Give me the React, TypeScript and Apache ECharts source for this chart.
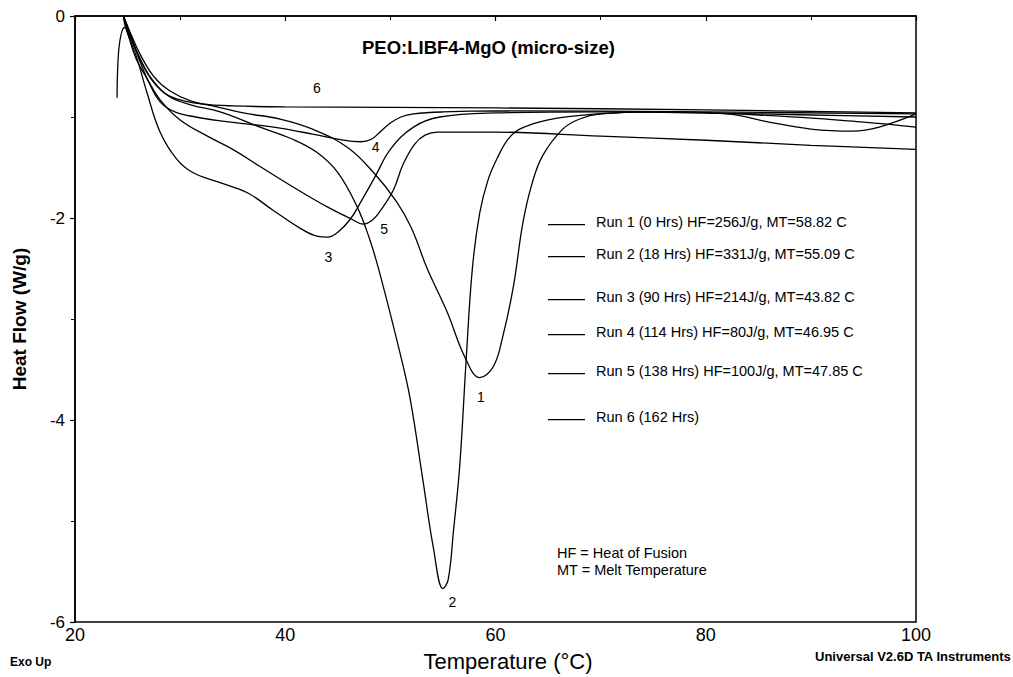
import React, { useEffect, useRef } from 'react';
import * as echarts from 'echarts';

// Temperature (°C), Heat Flow (W/g)
const run1: number[][] = [
  [24.6, 0], [25.2, -0.15], [26.2, -0.38], [27.5, -0.6], [29, -0.74], [31, -0.84], [33.5, -0.9],
  [36, -0.96], [39.5, -1.02], [42.6, -1.12], [45.9, -1.3], [48.4, -1.55], [50.6, -1.84], [52, -2.1],
  [53.5, -2.5], [55.4, -2.93], [57.1, -3.38], [58.5, -3.58], [59.8, -3.47], [60.7, -3.17], [61.7, -2.68],
  [62.6, -2.05], [63.5, -1.65], [64.5, -1.38], [66.4, -1.12], [68, -1.02], [70, -0.97], [75, -0.95],
  [82, -0.97], [86, -1.05], [90, -1.12], [94, -1.14], [96.5, -1.1], [100, -0.97],
];
const run2: number[][] = [
  [24.6, 0], [25.3, -0.2], [26.3, -0.45], [27.5, -0.66], [29, -0.8], [31, -0.88], [33.8, -0.95],
  [37.6, -1.1], [40.7, -1.22], [43, -1.35], [45, -1.55], [46.8, -1.88], [48, -2.2], [49, -2.55],
  [50.9, -3.33], [51.9, -3.8], [53.1, -4.6], [54.1, -5.27], [55, -5.67], [55.5, -5.58], [56, -5.1],
  [56.6, -4.45], [57.2, -3.42], [57.8, -2.5], [58.5, -1.95], [59.3, -1.62], [60.2, -1.4], [61.2, -1.22],
  [62.3, -1.12], [64.9, -1.03], [69.7, -0.97], [75, -0.95], [85, -0.98], [95, -1.05], [100, -1.1],
];
const run3: number[][] = [
  [24.6, 0], [24.8, -0.11], [25.3, -0.25], [25.9, -0.42], [26.85, -0.76], [28.1, -1.15], [29.7, -1.42],
  [31.2, -1.55], [33.8, -1.65], [36.4, -1.75], [38.8, -1.92], [41.4, -2.1], [43, -2.18], [44, -2.19],
  [45, -2.14], [46.2, -2.01], [47.3, -1.82], [48.6, -1.58], [50, -1.32], [52.2, -1.1], [54.7, -1.0],
  [60, -0.96], [70, -0.95], [80, -0.96], [90, -0.98], [100, -1.0],
];
const run4: number[][] = [
  [24.6, 0], [25.2, -0.16], [26, -0.4], [27, -0.65], [28.1, -0.85], [29.5, -0.95], [31.5, -1.0],
  [34, -1.04], [36.5, -1.07], [39.5, -1.11], [42.6, -1.17], [45.5, -1.23], [47.2, -1.245], [48.2, -1.22],
  [49, -1.15], [50, -1.06], [51, -1.0], [52.2, -0.97], [55, -0.95], [60, -0.94], [80, -0.95], [100, -0.97],
];
const run5: number[][] = [
  [24.6, 0], [25.1, -0.2], [25.8, -0.42], [26.85, -0.62], [28.1, -0.83], [30, -1.03], [32.6, -1.19],
  [35, -1.32], [37.6, -1.49], [40.7, -1.69], [44, -1.89], [46.3, -2.01], [47.4, -2.06], [48.3, -2.02],
  [49.1, -1.92], [50.3, -1.72], [51.2, -1.47], [52.3, -1.27], [53.3, -1.18], [54.5, -1.15], [60, -1.15],
  [70, -1.19], [80, -1.23], [90, -1.28], [100, -1.32],
];
const run6: number[][] = [
  [24.0, -0.81], [24.05, -0.55], [24.2, -0.3], [24.5, -0.14], [24.8, -0.11], [25.2, -0.2], [26, -0.38],
  [27, -0.58], [28.5, -0.76], [30, -0.83], [32, -0.87], [35, -0.89], [40, -0.9], [60, -0.91], [80, -0.93],
  [100, -0.96],
];

const runNames = [
  'Run 1 (0 Hrs) HF=256J/g, MT=58.82 C',
  'Run 2 (18 Hrs) HF=331J/g, MT=55.09 C',
  'Run 3 (90 Hrs) HF=214J/g, MT=43.82 C',
  'Run 4 (114 Hrs) HF=80J/g, MT=46.95 C',
  'Run 5 (138 Hrs) HF=100J/g, MT=47.85 C',
  'Run 6 (162 Hrs)',
];
const curveLabels = ['1', '2', '3', '4', '5', '6'];
const curveLabelCoords: number[][] = [
  [58.6, -3.77], [55.9, -5.8], [44.1, -2.39], [48.6, -1.3], [49.4, -2.11], [43.0, -0.71],
];
const legendTops = [209, 241, 284, 319, 358, 404];

export default function App() {
  const ref = useRef<HTMLDivElement>(null);
  useEffect(() => {
    const chart = echarts.init(ref.current!, null, { renderer: 'svg' });
    const font = "'Liberation Sans', Arial, Helvetica, sans-serif";
    const runs = [run1, run2, run3, run4, run5, run6];
    const legendIcon =
      'path://M0,0 L0.01,0 L0.01,0.01 Z M0,13.99 L0.01,14 L0,14 Z M0,9.5 L38,9.5 L38,10.9 L0,10.9 Z';
    chart.setOption({
      animation: false,
      backgroundColor: '#ffffff',
      textStyle: { fontFamily: font, color: '#000' },
      title: {
        text: 'PEO:LIBF4-MgO (micro-size)',
        left: 357,
        top: 33,
        textStyle: { fontSize: 18.5, fontWeight: 'bold', color: '#000', fontFamily: font },
      },
      grid: { left: 75, right: 97, top: 16, bottom: 53, show: true, borderColor: '#000', borderWidth: 1.5 },
      legend: runNames.map((n, i) => ({
        data: [{ name: n, icon: legendIcon }],
        orient: 'vertical',
        left: 543,
        top: legendTops[i],
        itemWidth: 37,
        itemHeight: 14,
        selectedMode: false,
        itemStyle: { color: '#000' },
        textStyle: { fontSize: 14.5, color: '#000', fontFamily: font, padding: [0, 0, 0, 6] },
      })),
      xAxis: {
        type: 'value',
        min: 20,
        max: 100,
        interval: 20,
        name: 'Temperature (°C)',
        nameLocation: 'middle',
        nameGap: 28,
        nameTextStyle: { fontSize: 22, color: '#000', fontFamily: font, padding: [0, 0, 0, 25] },
        axisLine: { show: true, lineStyle: { color: '#000', width: 1.5 } },
        axisTick: { show: true, length: 5, lineStyle: { color: '#000', width: 1.2 } },
        minorTick: { show: true, splitNumber: 2, length: 4, lineStyle: { color: '#000', width: 1 } },
        splitLine: { show: false },
        axisLabel: { fontSize: 18, color: '#000', margin: 4, fontFamily: font },
      },
      yAxis: {
        type: 'value',
        min: -6,
        max: 0,
        interval: 2,
        name: 'Heat Flow (W/g)',
        nameLocation: 'middle',
        nameGap: 46,
        nameTextStyle: { fontSize: 19, fontWeight: 'bold', color: '#000', fontFamily: font },
        axisLine: { show: true, lineStyle: { color: '#000', width: 1.5 } },
        axisTick: { show: true, length: 5, lineStyle: { color: '#000', width: 1.2 } },
        minorTick: { show: true, splitNumber: 2, length: 4, lineStyle: { color: '#000', width: 1 } },
        splitLine: { show: false },
        axisLabel: { fontSize: 17, color: '#000', margin: 10, fontFamily: font },
      },
      series: runs.map((d, i) => ({
        type: 'line',
        name: runNames[i],
        data: d,
        showSymbol: false,
        symbol: 'none',
        smooth: 0.4,
        lineStyle: { color: '#000', width: 1.3 },
        itemStyle: { color: '#000' },
        markPoint: {
          symbol: 'circle',
          symbolSize: 0,
          silent: true,
          data: [{ coord: curveLabelCoords[i], value: curveLabels[i] }],
          label: { show: true, position: 'inside', formatter: curveLabels[i], color: '#000', fontSize: 14, fontFamily: font },
        },
      })),
      graphic: [
        { type: 'text', left: 10, top: 656, style: { text: 'Exo Up', font: `bold 12px ${font}`, fill: '#000' } },
        { type: 'text', left: 815, top: 650, style: { text: 'Universal V2.6D TA Instruments', font: `bold 13px ${font}`, fill: '#000' } },
        { type: 'text', left: 557, top: 545, style: { text: 'HF = Heat of Fusion', font: `14.5px ${font}`, fill: '#000' } },
        { type: 'text', left: 557, top: 562, style: { text: 'MT = Melt Temperature', font: `14.5px ${font}`, fill: '#000' } },
      ],
    });
    return () => chart.dispose();
  }, []);
  return <div ref={ref} style={{ position: 'fixed', left: 0, top: 0, width: 1013, height: 677 }} />;
}
